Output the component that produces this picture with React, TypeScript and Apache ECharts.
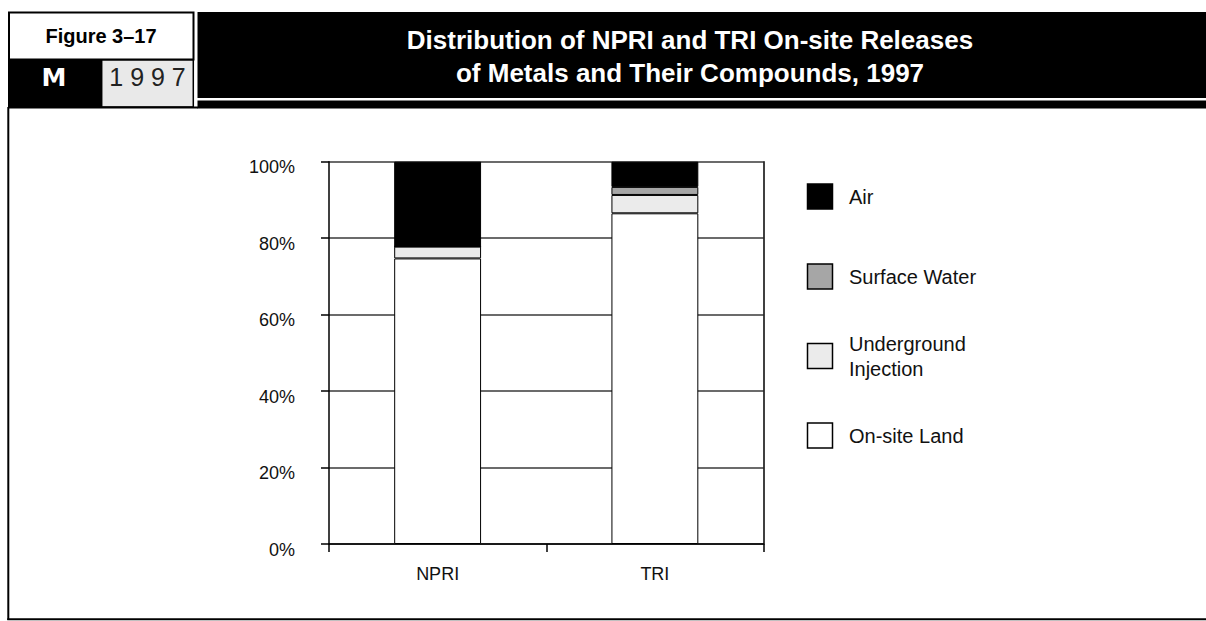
import React, { useEffect, useRef } from 'react';
import * as echarts from 'echarts';

// ---- data ----
const categories = ['NPRI', 'TRI'];
const onSiteLand = [74.7, 86.5];
const undergroundInjection = [3.1, 4.8];
const surfaceWater = [0, 2.1];
const air = [22.2, 6.6];
const yTicks = [0, 20, 40, 60, 80, 100];
const seriesNames = ['On-site Land', 'Underground Injection', 'Surface Water', 'Air'];
const legendOrder = ['Air', 'Surface Water', 'Underground Injection', 'On-site Land'];
const legendLabels = ['Air', 'Surface Water', 'Underground\nInjection', 'On-site Land'];
const titleLines = ['Distribution of NPRI and TRI On-site Releases', 'of Metals and Their Compounds, 1997'];
const figureLabel = 'Figure 3\u201317';
const badgeLetter = 'M';
const yearLabel = '1 9 9 7';

const COLORS: Record<string, string> = {
  'On-site Land': '#ffffff',
  'Underground Injection': '#ebebeb',
  'Surface Water': '#a6a6a6',
  Air: '#000000',
};

const SANS = '"Liberation Sans", Arial, Helvetica, sans-serif';

export default function App() {
  const ref = useRef<HTMLDivElement>(null);
  useEffect(() => {
    document.body.style.margin = '0';
    if (!ref.current) return;
    const chart = echarts.init(ref.current, undefined, { renderer: 'svg' });
    const seriesData = [onSiteLand, undergroundInjection, surfaceWater, air];
    const legendCenters = [196.5, 276.5, 356, 435.5];

    const graphic: any[] = [
      // header boxes
      { type: 'rect', shape: { x: 197.5, y: 12, width: 1010, height: 86 }, style: { fill: '#000' } },
      { type: 'rect', shape: { x: 197.5, y: 100.5, width: 1010, height: 8 }, style: { fill: '#000' } },
      { type: 'rect', shape: { x: 8, y: 59, width: 94, height: 49 }, style: { fill: '#000' } },
      { type: 'rect', shape: { x: 9, y: 12.5, width: 184.5, height: 47 }, style: { fill: '#fff', stroke: '#000', lineWidth: 2 } },
      { type: 'rect', shape: { x: 101.7, y: 60, width: 91.6, height: 47 }, style: { fill: '#e9e9e9', stroke: '#000', lineWidth: 1.5 } },
      { type: 'line', shape: { x1: 8, y1: 107.5, x2: 198, y2: 107.5 }, style: { stroke: '#000', lineWidth: 2 } },
      // frame
      { type: 'line', shape: { x1: 8.3, y1: 107, x2: 8.3, y2: 620 }, style: { stroke: '#000', lineWidth: 2 } },
      { type: 'line', shape: { x1: 7.3, y1: 619.3, x2: 1206, y2: 619.3 }, style: { stroke: '#000', lineWidth: 2 } },
      // header texts
      {
        type: 'text', x: 101, y: 36,
        style: { text: figureLabel, font: `bold 20px ${SANS}`, fill: '#000', align: 'center', verticalAlign: 'middle' },
      },
      {
        type: 'text', x: 54, y: 77,
        style: { text: badgeLetter, font: `bold 25px "DejaVu Sans", sans-serif`, fill: '#fff', align: 'center', verticalAlign: 'middle' },
      },
      {
        type: 'text', x: 147.5, y: 77,
        style: { text: yearLabel, font: `25px ${SANS}`, fill: '#222', align: 'center', verticalAlign: 'middle' },
      },
      {
        type: 'text', x: 690, y: 40,
        style: { text: titleLines[0], font: `bold 26px ${SANS}`, fill: '#fff', align: 'center', verticalAlign: 'middle' },
      },
      {
        type: 'text', x: 690, y: 73,
        style: { text: titleLines[1], font: `bold 26px ${SANS}`, fill: '#fff', align: 'center', verticalAlign: 'middle' },
      },
    ];

    legendOrder.forEach((name, i) => {
      const cy = legendCenters[i];
      graphic.push({
        type: 'rect',
        shape: { x: 807.5, y: cy - 12.5, width: 25, height: 25 },
        style: { fill: COLORS[name], stroke: '#000', lineWidth: 1.5 },
      });
      graphic.push({
        type: 'text', x: 849, y: cy,
        style: { text: legendLabels[i], font: `20px ${SANS}`, fill: '#111', align: 'left', verticalAlign: 'middle', lineHeight: 25 },
      });
    });

    chart.setOption({
      animation: false,
      backgroundColor: '#fff',
      grid: { left: 329, right: 442.5, top: 161.7, bottom: 77, containLabel: false },
      xAxis: {
        type: 'category',
        data: categories,
        boundaryGap: true,
        axisLine: { show: true, lineStyle: { color: '#000', width: 1.5 } },
        axisTick: { show: true, length: 8, alignWithLabel: false, lineStyle: { color: '#000', width: 1.5 } },
        axisLabel: { color: '#111', fontFamily: SANS, fontSize: 18, margin: 21 },
        splitLine: { show: false },
      },
      yAxis: [
        {
          type: 'value',
          min: yTicks[0],
          max: yTicks[yTicks.length - 1],
          interval: 20,
          axisLine: { show: true, lineStyle: { color: '#000', width: 1.5 } },
          axisTick: { show: true, length: 8, lineStyle: { color: '#000', width: 1.5 } },
          axisLabel: {
            color: '#111', fontFamily: SANS, fontSize: 18, margin: 34,
            formatter: (v: number) => `${v}%`, verticalAlign: 'top', lineHeight: 11,
          },
          splitLine: { show: true, lineStyle: { color: '#3a3a3a', width: 1.5 } },
        },
        {
          type: 'value',
          position: 'right',
          min: 0,
          max: 100,
          interval: 20,
          axisLine: { show: true, lineStyle: { color: '#000', width: 1.5 } },
          axisTick: { show: false },
          axisLabel: { show: false },
          splitLine: { show: false },
        },
      ],
      series: seriesNames.map((name, i) => ({
        name,
        type: 'bar',
        stack: 'total',
        yAxisIndex: 0,
        barWidth: '40%',
        data: seriesData[i],
        itemStyle: { color: COLORS[name], borderColor: '#000', borderWidth: 1 },
        emphasis: { disabled: true },
      })),
      graphic,
    });
    return () => chart.dispose();
  }, []);
  return <div ref={ref} style={{ width: 1206, height: 621 }} />;
}
